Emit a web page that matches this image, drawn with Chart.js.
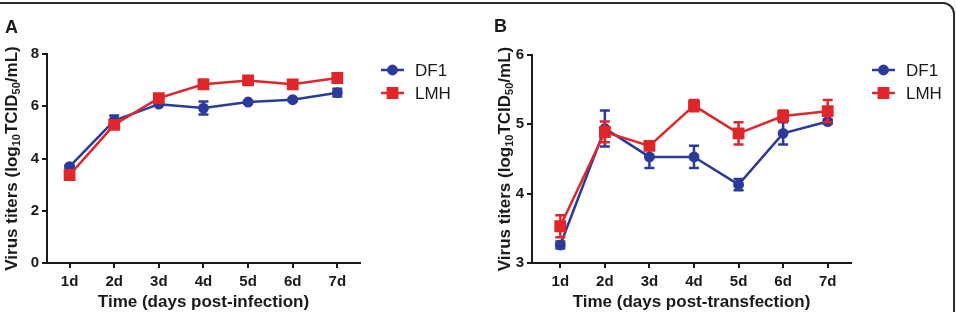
<!DOCTYPE html>
<html>
<head>
<meta charset="utf-8">
<script src="https://cdn.jsdelivr.net/npm/chart.js@4.4.1/dist/chart.umd.min.js"></script>
<style>
  body { margin: 0; background: #fff; }
  #page { position: relative; width: 957px; height: 312px; overflow: hidden; background: #fff; }
  #frame { position: absolute; left: -20px; top: 2px; width: 975px; height: 340px; box-sizing: border-box;
           border: 2px solid #2a2a2a; border-radius: 12px; }
  #wrapA { position: absolute; left: 0; top: 0; width: 477px; height: 312px; }
  #wrapB { position: absolute; left: 477px; top: 0; width: 480px; height: 312px; }
</style>
</head>
<body>
<div id="page">
  <div id="frame"></div>
  <div id="wrapA"><canvas id="chartA" width="477" height="312"></canvas></div>
  <div id="wrapB"><canvas id="chartB" width="480" height="312"></canvas></div>
</div>
<script>
// donnees
const days = ["1d", "2d", "3d", "4d", "5d", "6d", "7d"];
const seriesNames = ["DF1", "LMH"];

const df1A = [3.69, 5.45, 6.08, 5.93, 6.16, 6.25, 6.52];
const df1AErr = [0.05, 0.2, 0.05, 0.25, 0.05, 0.05, 0.15];
const lmhA = [3.37, 5.29, 6.31, 6.84, 6.99, 6.84, 7.08];
const lmhAErr = [0.06, 0.1, 0.08, 0.17, 0.06, 0.15, 0.06];

const df1B = [3.26, 4.94, 4.53, 4.53, 4.13, 4.87, 5.04];
const df1BErr = [0.05, 0.26, 0.16, 0.16, 0.08, 0.16, 0.03];
const lmhB = [3.53, 4.89, 4.69, 5.27, 4.87, 5.12, 5.19];
const lmhBErr = [0.16, 0.15, 0.02, 0.08, 0.16, 0.08, 0.16];

const yRangeA = [0, 8, 2];
const yRangeB = [3, 6, 1];

const BLUE = "#2c3a9a";
const RED = "#e0262a";
const INK = "#1a1a1a";

function toPoints(values) {
    return values.map((v, i) => ({ x: i + 1, y: v }));
}

// barres d'erreur, dessinees juste apres chaque serie
const errorBars = {
    id: "errorBars",
    afterDatasetDraw(chart, args) {
        const ds = chart.data.datasets[args.index];
        if (!ds.errors) return;
        const ctx = chart.ctx;
        const xs = chart.scales.x, ys = chart.scales.y;
        ctx.save();
        ctx.strokeStyle = ds.borderColor;
        ctx.lineWidth = 2.5;
        ds.data.forEach((p, i) => {
            const e = ds.errors[i];
            if (!e) return;
            const x = xs.getPixelForValue(p.x);
            const yTop = ys.getPixelForValue(p.y + e);
            const yBot = ys.getPixelForValue(p.y - e);
            ctx.beginPath();
            ctx.moveTo(x, yTop); ctx.lineTo(x, yBot);
            ctx.moveTo(x - 5, yTop); ctx.lineTo(x + 5, yTop);
            ctx.moveTo(x - 5, yBot); ctx.lineTo(x + 5, yBot);
            ctx.stroke();
        });
        ctx.restore();
    }
};

// titre de l'axe y avec indices, lettre du panneau et legende
const decorations = {
    id: "decorations",
    afterDraw(chart, args, opts) {
        const ctx = chart.ctx;
        const area = chart.chartArea;
        ctx.save();
        ctx.fillStyle = INK;

        // lettre du panneau
        ctx.font = "bold 18px 'Liberation Sans', Arial, sans-serif";
        ctx.textBaseline = "alphabetic";
        ctx.textAlign = "left";
        ctx.fillText(opts.letter, opts.letterX, opts.letterY);

        // titre y (log10 TCID50 en indice)
        const parts = [["Virus titers (log", false], ["10", true], ["TCID", false], ["50", true], ["/mL)", false]];
        const mainFont = "bold 17px 'Liberation Sans', Arial, sans-serif";
        const subFont = "bold 11px 'Liberation Sans', Arial, sans-serif";
        let total = 0;
        parts.forEach(([t, sub]) => { ctx.font = sub ? subFont : mainFont; total += ctx.measureText(t).width; });
        ctx.translate(opts.titleX, (area.top + area.bottom) / 2);
        ctx.rotate(-Math.PI / 2);
        let pos = -total / 2;
        parts.forEach(([t, sub]) => {
            ctx.font = sub ? subFont : mainFont;
            ctx.fillText(t, pos, sub ? 9 : 6);
            pos += ctx.measureText(t).width;
        });
        ctx.setTransform(1, 0, 0, 1, 0, 0);

        // legende
        ctx.font = "17px 'Liberation Sans', Arial, sans-serif";
        ctx.textBaseline = "middle";
        seriesNames.forEach((name, i) => {
            const ds = chart.data.datasets.find(d => d.label === name);
            const y = opts.legendY + i * 23;
            ctx.strokeStyle = ds.borderColor;
            ctx.lineWidth = 2.5;
            ctx.beginPath();
            ctx.moveTo(opts.legendX, y);
            ctx.lineTo(opts.legendX + 23, y);
            ctx.stroke();
            ctx.fillStyle = ds.pointBackgroundColor;
            Chart.helpers.drawPoint(ctx, {
                pointStyle: ds.pointStyle, radius: ds.pointRadius, borderWidth: 1, rotation: 0
            }, opts.legendX + 11.5, y);
            ctx.fillStyle = INK;
            ctx.fillText(name, opts.legendX + 34, y + 1);
        });
        ctx.restore();
    }
};

function makeChart(canvasId, cfg) {
    const datasets = [
        {
            label: "DF1", data: toPoints(cfg.df1), errors: cfg.df1Err,
            borderColor: BLUE, backgroundColor: BLUE, pointBackgroundColor: BLUE, pointBorderColor: BLUE,
            pointStyle: "circle", pointRadius: 4.2, borderWidth: 2.5, order: 1
        },
        {
            label: "LMH", data: toPoints(cfg.lmh), errors: cfg.lmhErr,
            borderColor: RED, backgroundColor: RED, pointBackgroundColor: RED, pointBorderColor: RED,
            pointStyle: "rect", pointRadius: 6.6, borderWidth: 2.5, order: 0
        }
    ];

    return new Chart(document.getElementById(canvasId), {
        type: "line",
        data: { datasets: datasets },
        plugins: [errorBars, decorations],
        options: {
            responsive: false,
            animation: false,
            layout: { padding: { left: 0, top: cfg.top, right: cfg.right, bottom: 0 } },
            plugins: {
                legend: { display: false },
                tooltip: { enabled: false },
                decorations: cfg.deco
            },
            scales: {
                x: {
                    type: "linear",
                    min: cfg.xMin,
                    max: cfg.xMax,
                    ticks: {
                        stepSize: 1,
                        includeBounds: true,
                        autoSkip: false,
                        maxRotation: 0,
                        padding: 5,
                        color: INK,
                        font: { family: "'Liberation Sans', Arial, sans-serif", size: 15, weight: "bold" },
                        callback: v => days[v - 1] || ""
                    },
                    // une graduation par jour
                    afterBuildTicks: scale => {
                        scale.ticks = days.map((d, i) => ({ value: i + 1 }));
                    },
                    afterFit: scale => { scale.height = 49; },
                    grid: { drawOnChartArea: false, drawTicks: true, tickLength: 5, color: INK, lineWidth: 2 },
                    border: { color: INK, width: 2 },
                    title: {
                        display: true,
                        text: cfg.xTitle,
                        color: INK,
                        padding: { top: 0, bottom: -1 },
                        font: { family: "'Liberation Sans', Arial, sans-serif", size: 17, weight: "bold" }
                    }
                },
                y: {
                    min: cfg.yRange[0],
                    max: cfg.yRange[1],
                    ticks: {
                        stepSize: cfg.yRange[2],
                        padding: 3,
                        color: INK,
                        font: { family: "'Liberation Sans', Arial, sans-serif", size: 15, weight: "bold" }
                    },
                    afterFit: scale => { scale.width = cfg.yWidth; },
                    grid: { drawOnChartArea: false, drawTicks: true, tickLength: 5, color: INK, lineWidth: 2 },
                    border: { color: INK, width: 2 }
                }
            }
        }
    });
}

makeChart("chartA", {
    df1: df1A, df1Err: df1AErr, lmh: lmhA, lmhErr: lmhAErr,
    yRange: yRangeA, xMin: 0.494, xMax: 7.508,
    top: 54, right: 117, yWidth: 47,
    xTitle: "Time (days post-infection)",
    deco: { letter: "A", letterX: 5, letterY: 33, titleX: 11, legendX: 381, legendY: 70 }
});

makeChart("chartB", {
    df1: df1B, df1Err: df1BErr, lmh: lmhB, lmhErr: lmhBErr,
    yRange: yRangeB, xMin: 0.365, xMax: 7.523,
    top: 55, right: 106, yWidth: 55,
    xTitle: "Time (days post-transfection)",
    deco: { letter: "B", letterX: 17, letterY: 32, titleX: 27, legendX: 395, legendY: 70 }
});
</script>
</body>
</html>
